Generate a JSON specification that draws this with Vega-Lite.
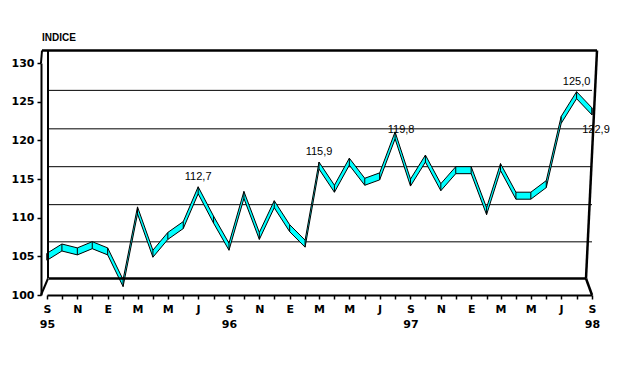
{
  "$schema": "https://vega.github.io/schema/vega-lite/v6.json",
  "autosize": {"type": "none"},
  "width": 545,
  "height": 232,
  "padding": {"left": 47, "top": 63, "right": 30, "bottom": 90},
  "background": "white",
  "config": {
    "view": {"stroke": null},
    "axisX": {"title": null, "grid": false, "domainColor": "black", "domainWidth": 2, "tickColor": "black", "tickSize": 4, "tickWidth": 1.5,
      "labelFont": "DejaVu Sans", "labelFontWeight": "bold", "labelFontSize": 11, "labelColor": "black",
      "labelPadding": 4, "labelLineHeight": 15, "labelOverlap": false, "labelFlush": false, "labelBound": false, "labelAngle": 0},
    "axisY": {"title": null, "grid": false, "domainColor": "black", "domainWidth": 2, "tickColor": "black", "tickSize": 4, "tickWidth": 1.5, "offset": 6,
      "labelFont": "DejaVu Sans", "labelFontWeight": "bold", "labelFontSize": 11, "labelColor": "black", "labelPadding": 3, "labelOverlap": false}
  },
  "title": {"text": "INDICE", "anchor": "start", "frame": "group", "dx": -5, "offset": -2, "fontSize": 10, "font": "Liberation Sans", "fontWeight": "bold", "color": "black", "baseline": "alphabetic"},
  "datasets": {
    "uno": [{"k": 1}],
    "serie": [
    {"mes": "1995-09-01", "indice": 104.1},
    {"mes": "1995-10-01", "indice": 105.3},
    {"mes": "1995-11-01", "indice": 104.8},
    {"mes": "1995-12-01", "indice": 105.6},
    {"mes": "1996-01-01", "indice": 104.8},
    {"mes": "1996-02-01", "indice": 100.7},
    {"mes": "1996-03-01", "indice": 110.1},
    {"mes": "1996-04-01", "indice": 104.5},
    {"mes": "1996-05-01", "indice": 106.8},
    {"mes": "1996-06-01", "indice": 108.2},
    {"mes": "1996-07-01", "indice": 112.7, "etiqueta": "112,7"},
    {"mes": "1996-08-01", "indice": 108.9},
    {"mes": "1996-09-01", "indice": 105.4},
    {"mes": "1996-10-01", "indice": 112.1},
    {"mes": "1996-11-01", "indice": 106.8},
    {"mes": "1996-12-01", "indice": 110.9},
    {"mes": "1997-01-01", "indice": 107.8},
    {"mes": "1997-02-01", "indice": 105.8},
    {"mes": "1997-03-01", "indice": 115.9, "etiqueta": "115,9"},
    {"mes": "1997-04-01", "indice": 112.9},
    {"mes": "1997-05-01", "indice": 116.4},
    {"mes": "1997-06-01", "indice": 113.8},
    {"mes": "1997-07-01", "indice": 114.5},
    {"mes": "1997-08-01", "indice": 119.8, "etiqueta": "119,8"},
    {"mes": "1997-09-01", "indice": 113.7},
    {"mes": "1997-10-01", "indice": 116.8},
    {"mes": "1997-11-01", "indice": 113.1},
    {"mes": "1997-12-01", "indice": 115.3},
    {"mes": "1998-01-01", "indice": 115.3},
    {"mes": "1998-02-01", "indice": 110.0},
    {"mes": "1998-03-01", "indice": 115.7},
    {"mes": "1998-04-01", "indice": 112.0},
    {"mes": "1998-05-01", "indice": 112.0},
    {"mes": "1998-06-01", "indice": 113.5},
    {"mes": "1998-07-01", "indice": 121.8},
    {"mes": "1998-08-01", "indice": 125.0, "etiqueta": "125,0"},
    {"mes": "1998-09-01", "indice": 122.9, "etiqueta": "122,9"}
  ]},
  "layer": [
    {"data": {"name": "serie"},
     "mark": {"type": "area", "opacity": 0, "yOffset": -3, "y2Offset": -10},
     "encoding": {
      "x": {"field": "mes", "type": "temporal",
        "scale": {"type": "utc", "nice": false, "domain": [{"year": 1995, "month": 9, "date": 1, "utc": true}, {"year": 1998, "month": 9, "date": 1, "utc": true}]},
        "axis": {"tickCount": {"interval": "month", "step": 1},
          "labelExpr": "utcmonth(datum.value) % 2 == 0 ? (utcmonth(datum.value) == 8 ? ['S', utcFormat(datum.value, '%y')] : ['E','F','M','A','M','J','J','A','S','O','N','D'][utcmonth(datum.value)]) : ''"}},
      "y": {"field": "indice", "type": "quantitative",
        "scale": {"domain": [100, 130], "nice": false, "zero": false},
        "axis": {"values": [100, 105, 110, 115, 120, 125, 130]}},
      "y2": {"field": "indice"}}},
    {"data": {"name": "uno"}, "mark": {"type": "rule", "stroke": "black", "strokeWidth": 1, "yOffset": -14.5}, "encoding": {"y": {"datum": 105, "axis": {"values": [100, 105, 110, 115, 120, 125, 130]}}}},
    {"data": {"name": "uno"}, "mark": {"type": "rule", "stroke": "black", "strokeWidth": 1, "yOffset": -13}, "encoding": {"y": {"datum": 110, "axis": {"values": [100, 105, 110, 115, 120, 125, 130]}}}},
    {"data": {"name": "uno"}, "mark": {"type": "rule", "stroke": "black", "strokeWidth": 1, "yOffset": -12.3}, "encoding": {"y": {"datum": 115, "axis": {"values": [100, 105, 110, 115, 120, 125, 130]}}}},
    {"data": {"name": "uno"}, "mark": {"type": "rule", "stroke": "black", "strokeWidth": 1, "yOffset": -11.5}, "encoding": {"y": {"datum": 120, "axis": {"values": [100, 105, 110, 115, 120, 125, 130]}}}},
    {"data": {"name": "uno"}, "mark": {"type": "rule", "stroke": "black", "strokeWidth": 1, "yOffset": -11.3}, "encoding": {"y": {"datum": 125, "axis": {"values": [100, 105, 110, 115, 120, 125, 130]}}}},
    {"data": {"name": "serie"}, "mark": {"type": "area", "fill": "#00FFFF", "fillOpacity": 1, "stroke": "black", "strokeWidth": 1, "yOffset": -3, "y2Offset": -10, "interpolate": "linear"},
     "encoding": {"x": {"field": "mes", "type": "temporal"}, "y": {"field": "indice", "type": "quantitative", "axis": {"values": [100, 105, 110, 115, 120, 125, 130]}}, "y2": {"field": "indice"}}},
    {"data": {"name": "serie"}, "mark": {"type": "rule", "stroke": "black", "strokeWidth": 1, "yOffset": -3, "y2Offset": -10},
     "encoding": {"x": {"field": "mes", "type": "temporal"}, "y": {"field": "indice", "type": "quantitative", "axis": {"values": [100, 105, 110, 115, 120, 125, 130]}}, "y2": {"field": "indice"}}},
    {"data": {"name": "uno"}, "mark": {"type": "rule", "stroke": "black", "strokeWidth": 2.5, "yOffset": -12.5, "xOffset": -5, "x2Offset": 5, "y2Offset": -12.5},
      "encoding": {"x": {"datum": {"year": 1995, "month": 9, "date": 1, "utc": true}}, "x2": {"datum": {"year": 1998, "month": 9, "date": 1, "utc": true}}, "y": {"datum": 130, "axis": {"values": [100, 105, 110, 115, 120, 125, 130]}}, "y2": {"datum": 130}}},
    {"data": {"name": "uno"}, "mark": {"type": "rule", "stroke": "black", "strokeWidth": 2.5, "yOffset": -16.5, "xOffset": 2, "x2Offset": -6, "y2Offset": -16.5},
      "encoding": {"x": {"datum": {"year": 1995, "month": 9, "date": 1, "utc": true}}, "x2": {"datum": {"year": 1998, "month": 9, "date": 1, "utc": true}}, "y": {"datum": 100, "axis": {"values": [100, 105, 110, 115, 120, 125, 130]}}, "y2": {"datum": 100}}},
    {"data": {"name": "uno"}, "mark": {"type": "rule", "stroke": "black", "strokeWidth": 2.5, "xOffset": -6, "yOffset": -16.5, "x2Offset": 5, "y2Offset": -12.5},
      "encoding": {"x": {"datum": {"year": 1998, "month": 9, "date": 1, "utc": true}}, "x2": {"datum": {"year": 1998, "month": 9, "date": 1, "utc": true}}, "y": {"datum": 100, "axis": {"values": [100, 105, 110, 115, 120, 125, 130]}}, "y2": {"datum": 130}}},
    {"data": {"name": "uno"}, "mark": {"type": "rule", "stroke": "black", "strokeWidth": 2.5, "xOffset": -6, "yOffset": -16.5, "x2Offset": 0, "y2Offset": 0},
      "encoding": {"x": {"datum": {"year": 1998, "month": 9, "date": 1, "utc": true}}, "x2": {"datum": {"year": 1998, "month": 9, "date": 1, "utc": true}}, "y": {"datum": 100, "axis": {"values": [100, 105, 110, 115, 120, 125, 130]}}, "y2": {"datum": 100}}},
    {"data": {"name": "uno"}, "mark": {"type": "rule", "stroke": "black", "strokeWidth": 2, "xOffset": 1, "x2Offset": 1, "yOffset": -16.5, "y2Offset": -12.5},
      "encoding": {"x": {"datum": {"year": 1995, "month": 9, "date": 1, "utc": true}}, "x2": {"datum": {"year": 1995, "month": 9, "date": 1, "utc": true}}, "y": {"datum": 100, "axis": {"values": [100, 105, 110, 115, 120, 125, 130]}}, "y2": {"datum": 130}}},
    {"data": {"name": "uno"}, "mark": {"type": "rule", "stroke": "black", "strokeWidth": 2, "xOffset": -6, "x2Offset": 1, "yOffset": 0, "y2Offset": -16.5},
      "encoding": {"x": {"datum": {"year": 1995, "month": 9, "date": 1, "utc": true}}, "x2": {"datum": {"year": 1995, "month": 9, "date": 1, "utc": true}}, "y": {"datum": 100, "axis": {"values": [100, 105, 110, 115, 120, 125, 130]}}, "y2": {"datum": 100}}},
    {"data": {"name": "uno"}, "mark": {"type": "rule", "stroke": "black", "strokeWidth": 2, "xOffset": -6, "x2Offset": -5, "yOffset": 0, "y2Offset": -12.5},
      "encoding": {"x": {"datum": {"year": 1995, "month": 9, "date": 1, "utc": true}}, "x2": {"datum": {"year": 1995, "month": 9, "date": 1, "utc": true}}, "y": {"datum": 130, "axis": {"values": [100, 105, 110, 115, 120, 125, 130]}}, "y2": {"datum": 130}}},
    {"data": {"name": "serie"}, "transform": [{"filter": "datum.etiqueta == '112,7' || datum.etiqueta == '115,9' || datum.etiqueta == '125,0'"}],
      "mark": {"type": "text", "font": "Liberation Sans", "fontSize": 11, "color": "black", "dy": -20, "baseline": "middle"},
      "encoding": {"x": {"field": "mes", "type": "temporal"}, "y": {"field": "indice", "type": "quantitative", "axis": {"values": [100, 105, 110, 115, 120, 125, 130]}}, "text": {"field": "etiqueta"}}},
    {"data": {"name": "serie"}, "transform": [{"filter": "datum.etiqueta == '119,8'"}],
      "mark": {"type": "text", "font": "Liberation Sans", "fontSize": 11, "color": "black", "dy": -12, "dx": 6, "baseline": "middle"},
      "encoding": {"x": {"field": "mes", "type": "temporal"}, "y": {"field": "indice", "type": "quantitative", "axis": {"values": [100, 105, 110, 115, 120, 125, 130]}}, "text": {"field": "etiqueta"}}},
    {"data": {"name": "serie"}, "transform": [{"filter": "datum.etiqueta == '122,9'"}],
      "mark": {"type": "text", "font": "Liberation Sans", "fontSize": 11, "color": "black", "dy": 12, "dx": 4, "baseline": "middle"},
      "encoding": {"x": {"field": "mes", "type": "temporal"}, "y": {"field": "indice", "type": "quantitative", "axis": {"values": [100, 105, 110, 115, 120, 125, 130]}}, "text": {"field": "etiqueta"}}}
  ]
}
